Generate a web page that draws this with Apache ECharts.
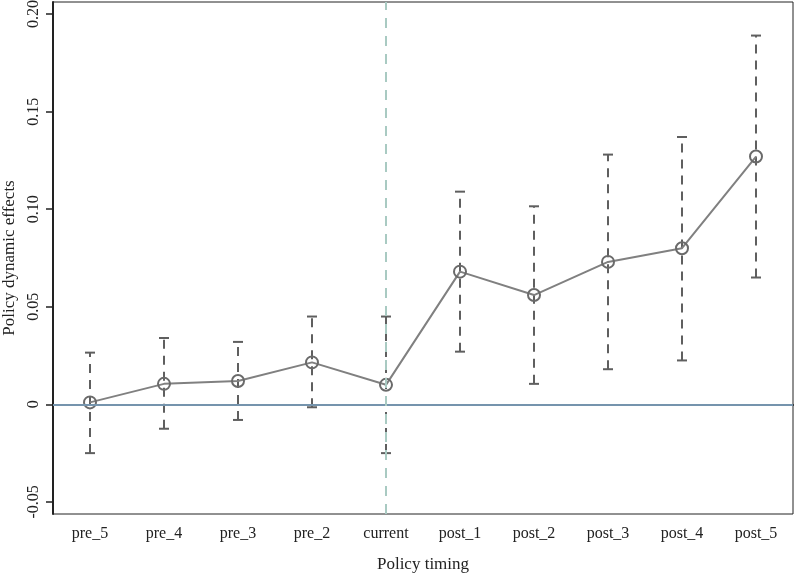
<!DOCTYPE html>
<html>
<head>
<meta charset="utf-8">
<script src="https://cdn.jsdelivr.net/npm/echarts@6/dist/echarts.min.js"></script>
<style>
html,body{margin:0;padding:0;background:#fff;}
#chart{width:796px;height:577px;}
</style>
</head>
<body>
<div id="chart"></div>
<script>
var categories = ['pre_5','pre_4','pre_3','pre_2','current','post_1','post_2','post_3','post_4','post_5'];
var estimates = [0.001, 0.0105, 0.012, 0.0215, 0.010, 0.068, 0.056, 0.073, 0.080, 0.127];
var upper = [0.0265, 0.034, 0.032, 0.045, 0.045, 0.109, 0.1015, 0.128, 0.137, 0.189];
var lower = [-0.025, -0.0125, -0.008, -0.0015, -0.025, 0.027, 0.0105, 0.018, 0.0225, 0.065];
var yTicks = [-0.05, 0, 0.05, 0.10, 0.15, 0.20];

var font = '"Liberation Serif", "Times New Roman", serif';

var barData = [];
for (var i = 0; i < categories.length; i++) {
    barData.push([i, lower[i], upper[i]]);
}

function renderBar(params, api) {
    var lo = api.coord([api.value(0), api.value(1)]);
    var hi = api.coord([api.value(0), api.value(2)]);
    var cap = 5;
    var st = {stroke: '#5f5f5f', lineWidth: 2};
    return {
        type: 'group',
        children: [
            {type: 'line', shape: {x1: lo[0], y1: lo[1], x2: hi[0], y2: hi[1]},
             style: {stroke: '#5f5f5f', lineWidth: 2, lineDash: [9, 7]}},
            {type: 'line', shape: {x1: hi[0] - cap, y1: hi[1], x2: hi[0] + cap, y2: hi[1]}, style: st},
            {type: 'line', shape: {x1: lo[0] - cap, y1: lo[1], x2: lo[0] + cap, y2: lo[1]}, style: st}
        ]
    };
}

var myChart = echarts.init(document.getElementById('chart'));
option = {
    animation: false,
    backgroundColor: '#ffffff',
    grid: {
        left: 53, right: 3, top: 2, bottom: 63,
        outerBoundsMode: 'none',
        containLabel: false,
        show: true, borderColor: '#222', borderWidth: 1
    },
    xAxis: {
        type: 'category',
        data: categories,
        boundaryGap: true,
        name: 'Policy timing',
        nameLocation: 'middle',
        nameGap: 42,
        nameTextStyle: {fontFamily: font, fontSize: 17, color: '#222'},
        axisLine: {lineStyle: {color: '#222', width: 2}},
        axisTick: {alignWithLabel: true, length: 7, lineStyle: {color: '#222', width: 1.5}},
        axisLabel: {fontFamily: font, fontSize: 16, color: '#222', margin: 12},
        splitLine: {show: false}
    },
    yAxis: {
        type: 'value',
        min: -0.0562,
        max: 0.2062,
        name: 'Policy dynamic effects',
        nameLocation: 'middle',
        nameGap: 35,
        nameTextStyle: {fontFamily: font, fontSize: 17, color: '#222'},
        axisLine: {show: true, lineStyle: {color: '#222', width: 2}},
        axisTick: {show: true, length: 7, customValues: yTicks, lineStyle: {color: '#222', width: 1.5}},
        axisLabel: {
            fontFamily: font, fontSize: 16, color: '#222', rotate: 90, margin: 11,
            customValues: yTicks,
            formatter: function (v) { return Math.abs(v) < 1e-9 ? '0' : v.toFixed(2); }
        },
        splitLine: {show: false}
    },
    series: [
        {
            type: 'custom',
            data: barData,
            renderItem: renderBar,
            encode: {x: 0, y: [1, 2]},
            z: 3
        },
        {
            type: 'line',
            data: estimates,
            symbol: 'circle',
            symbolSize: 12,
            itemStyle: {color: 'rgba(255,255,255,0)', borderColor: '#6a6a6a', borderWidth: 2},
            lineStyle: {color: '#808080', width: 2},
            z: 4,
            markLine: {
                silent: true,
                symbol: 'none',
                label: {show: false},
                data: [
                    {yAxis: 0, lineStyle: {color: '#7594ad', type: 'solid', width: 2}},
                    {xAxis: 'current', lineStyle: {color: '#a9cac2', type: [10, 8], width: 2}}
                ]
            }
        }
    ]
};
myChart.setOption(option);
</script>
</body>
</html>
